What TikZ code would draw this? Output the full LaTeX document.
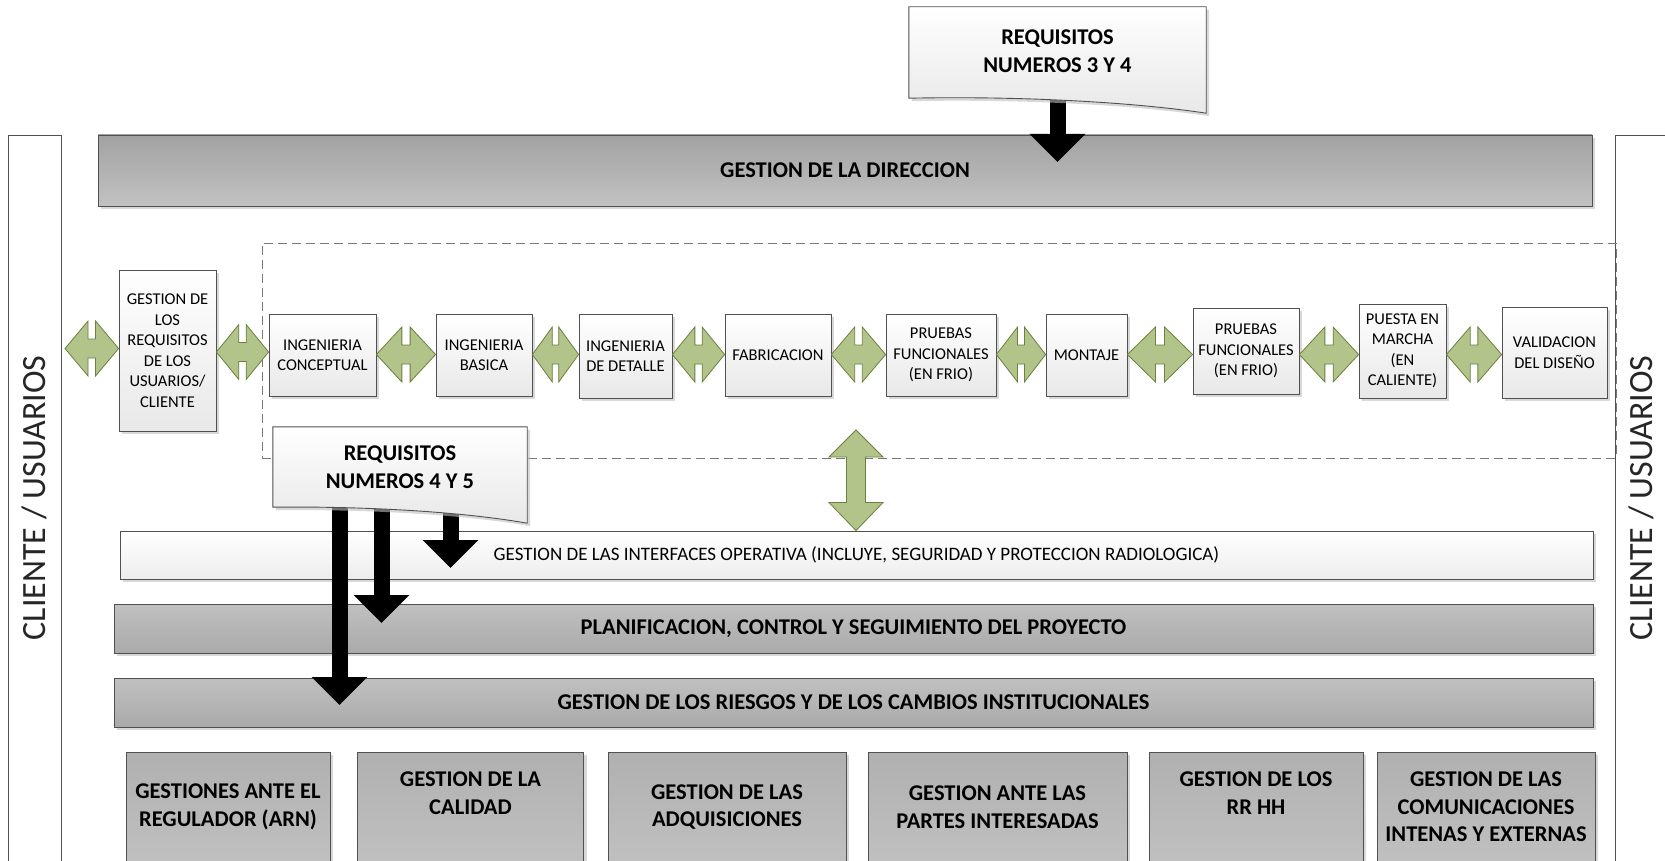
\documentclass[tikz,border=0pt]{standalone}
\usepackage{fontspec}
\setmainfont{Carlito}
\usetikzlibrary{arrows.meta,calc,shadows}

\definecolor{edgec}{RGB}{80,80,80}
\definecolor{dirTop}{RGB}{162,162,162}
\definecolor{dirBot}{RGB}{194,194,194}
\definecolor{barTop}{RGB}{192,192,192}
\definecolor{barBot}{RGB}{170,170,170}
\definecolor{boxTop}{RGB}{176,176,176}
\definecolor{boxBot}{RGB}{192,192,192}
\definecolor{gfill}{RGB}{178,196,138}
\definecolor{gline}{RGB}{108,128,64}
\definecolor{dashc}{RGB}{120,120,120}

\newcommand\bigbold{\bfseries\fontsize{22.5}{27.5}\selectfont}
\newcommand\procfont{\fontsize{16.5}{20.5}\selectfont}

% horizontal double block arrow between two nodes, at a given height
\newcommand\dblarr[3]{%
  \path[garrow] let \p1=(#1.east), \p2=(#2.west),
    \n1={0.5*(\x1+\x2)}, \n2={0.07*(\x2-\x1)}, \n3={-(#3)*1pt} in
    (\x1,\n3) -- (\n1-\n2,\n3+27.5pt) -- (\n1-\n2,\n3+9.5pt) -- (\n1+\n2,\n3+9.5pt)
    -- (\n1+\n2,\n3+27.5pt) -- (\x2,\n3) -- (\n1+\n2,\n3-27.5pt) -- (\n1+\n2,\n3-9.5pt)
    -- (\n1-\n2,\n3-9.5pt) -- (\n1-\n2,\n3-27.5pt) -- cycle;}

% vertical double block arrow from a point down to another
\newcommand\vdblarr[2]{%
  \path[garrow] let \p1=(#1), \p2=(#2) in
    (\x1,\y1) -- (\x1+27pt,\y1-27pt) -- (\x1+9.5pt,\y1-27pt) -- (\x1+9.5pt,\y2+28pt)
    -- (\x1+27pt,\y2+28pt) -- (\x1,\y2) -- (\x1-27pt,\y2+28pt) -- (\x1-9.5pt,\y2+28pt)
    -- (\x1-9.5pt,\y1-27pt) -- (\x1-27pt,\y1-27pt) -- cycle;}

\begin{document}
\begin{tikzpicture}[x=1pt,y=-1pt,
  sz/.style 2 args={minimum width=#1pt,minimum height=#2pt},
  shdw/.style={drop shadow={shadow xshift=3pt,shadow yshift=-3pt,fill=black!25,opacity=0.6}},
  graybar/.style={draw=edgec,line width=0.9pt,top color=barTop,bottom color=barBot,shdw,inner sep=0pt,font=\bigbold},
  whitebar/.style={draw=edgec,line width=0.9pt,top color=white,bottom color=black!7,shdw,inner sep=0pt,font=\fontsize{19}{22}\selectfont},
  graybox/.style={draw=edgec,line width=0.9pt,top color=boxTop,bottom color=boxBot,shdw,inner sep=1pt,align=center,font=\bigbold},
  whitebox/.style={draw=edgec,line width=0.8pt,top color=white,bottom color=black!9,shdw,inner sep=1pt,align=center,font=\procfont},
  sidebar/.style={draw=edgec,line width=0.9pt,fill=white,inner sep=0pt},
  sidetext/.style={rotate=90,font=\fontsize{34}{40}\selectfont,text=black!85},
  docshape/.style={draw=edgec,line width=0.9pt,top color=white,bottom color=black!9,shdw},
  garrow/.style={fill=gfill,draw=gline,line width=0.8pt,line join=miter},
  blk/.style={line width=16pt,black,-{Triangle[width=54pt,length=28pt]}},
  container/.style={draw=dashc,line width=1pt,dash pattern=on 9pt off 5pt,inner sep=0pt}]

\clip (0,0) rectangle (1665,861);
\fill[white] (0,0) rectangle (1665,861);

% client / user side bars
\node[sidebar,sz={53}{760},anchor=north west] (cl) at (8,135) {};
\node[sidetext] (clt) at (34.5,498) {CLIENTE / USUARIOS};
\node[sidebar,sz={53}{760},anchor=north west] (cr) at (1615,135) {};
\node[sidetext] (crt) at (1641,498) {CLIENTE / USUARIOS};

% dashed frame around the engineering chain
\node[container,sz={1354}{215}] (chain) at (939,350.5) {};

% management bars
\node[graybar,top color=dirTop,bottom color=dirBot,sz={1494}{71}] (dir) at (845,170.5) {GESTION DE LA DIRECCION};
\node[whitebar,sz={1473}{48}] (ifc) at (856.5,555) {GESTION DE LAS INTERFACES OPERATIVA (INCLUYE, SEGURIDAD Y PROTECCION RADIOLOGICA)};
\node[graybar,sz={1479}{49}] (plan) at (853.5,628.5) {PLANIFICACION, CONTROL Y SEGUIMIENTO DEL PROYECTO};
\node[graybar,sz={1479}{49}] (risk) at (853.5,702.5) {GESTION DE LOS RIESGOS Y DE LOS CAMBIOS INSTITUCIONALES};

% support processes
\node[graybox,sz={204}{110}] (b1) at (228,807) {GESTIONES ANTE EL\\REGULADOR (ARN)};
\node[graybox,sz={226}{110}] (b2) at (470.5,807) {GESTION DE LA\\CALIDAD\\\mbox{}};
\node[graybox,sz={238}{110}] (b3) at (727,807) {GESTION DE LAS\\ADQUISICIONES};
\node[graybox,sz={259}{110}] (b4) at (997.5,807) {GESTION ANTE LAS\\PARTES INTERESADAS};
\node[graybox,sz={214}{110}] (b5) at (1256,807) {GESTION DE LOS\\RR HH\\\mbox{}};
\node[graybox,sz={218}{110}] (b6) at (1486,807) {GESTION DE LAS\\COMUNICACIONES\\INTENAS Y EXTERNAS};

% engineering chain
\node[whitebox,sz={97}{161}] (req) at (167.5,350.5) {GESTION DE\\LOS\\REQUISITOS\\DE LOS\\USUARIOS/\\CLIENTE};
\node[whitebox,sz={107}{82}] (c1) at (322.5,355) {INGENIERIA\\CONCEPTUAL};
\node[whitebox,sz={96}{82}] (c2) at (484,355) {INGENIERIA\\BASICA};
\node[whitebox,sz={93}{84}] (c3) at (625.5,356) {INGENIERIA\\DE DETALLE};
\node[whitebox,sz={106}{82}] (c4) at (778,355) {FABRICACION};
\node[whitebox,sz={110}{82}] (c5) at (941,355) {PRUEBAS\\FUNCIONALES\\(EN FRIO)};
\node[whitebox,sz={81}{82}] (c6) at (1086.5,355) {MONTAJE};
\node[whitebox,sz={106}{86}] (c7) at (1246,351) {PRUEBAS\\FUNCIONALES\\(EN FRIO)};
\node[whitebox,sz={87}{94}] (c8) at (1402.5,351) {PUESTA EN\\MARCHA\\(EN\\CALIENTE)};
\node[whitebox,sz={105}{91}] (c9) at (1554.5,352.5) {VALIDACION\\DEL DISEÑO};

% two-way links along the chain
\coordinate (clx) at (65,348.5);
\dblarr{clx}{req}{348.5}
\dblarr{req}{c1}{352}
\dblarr{c1}{c2}{354.5}
\dblarr{c2}{c3}{354.5}
\dblarr{c3}{c4}{354.5}
\dblarr{c4}{c5}{354.5}
\dblarr{c5}{c6}{354.5}
\dblarr{c6}{c7}{354.5}
\dblarr{c7}{c8}{354.5}
\dblarr{c8}{c9}{354.5}

% link between the chain and the interfaces bar
\coordinate (vtop) at (856,430);
\vdblarr{vtop}{vtop |- ifc.north}

% requirement callouts
\node[sz={297}{106},inner sep=0pt] (req34) at (1057.5,60) {};
\node[sz={254}{96},inner sep=0pt] (req45) at (400,475) {};
\coordinate (t34) at (1057.5,162);
\coordinate (ta) at (339.5,705);
\coordinate (tb) at (381.5,623);
\coordinate (tc) at (450.5,568);

\draw[blk] (req34.center) -- (t34);
\draw[blk] (req45.center -| ta) -- (ta);
\draw[blk] (req45.center -| tb) -- (tb);
\draw[blk] (req45.center -| tc) -- (tc);

\path[docshape] (req34.north west) -- (req34.north east) -- (req34.south east)
  .. controls ($(req34.south east)+(-86,-13)$) and ($(req34.south west)+(91,-17)$)
  .. ($(req34.south west)+(0,-15)$) -- cycle;
\node[font=\bigbold,align=center] (req34t) at (1057.5,51) {REQUISITOS\\NUMEROS 3 Y 4};

\path[docshape] (req45.north west) -- (req45.north east) -- (req45.south east)
  .. controls ($(req45.south east)+(-74,-13)$) and ($(req45.south west)+(78,-17)$)
  .. ($(req45.south west)+(0,-16)$) -- cycle;
\node[font=\bigbold,align=center] (req45t) at (400,467) {REQUISITOS\\NUMEROS 4 Y 5};

\end{tikzpicture}
\end{document}
